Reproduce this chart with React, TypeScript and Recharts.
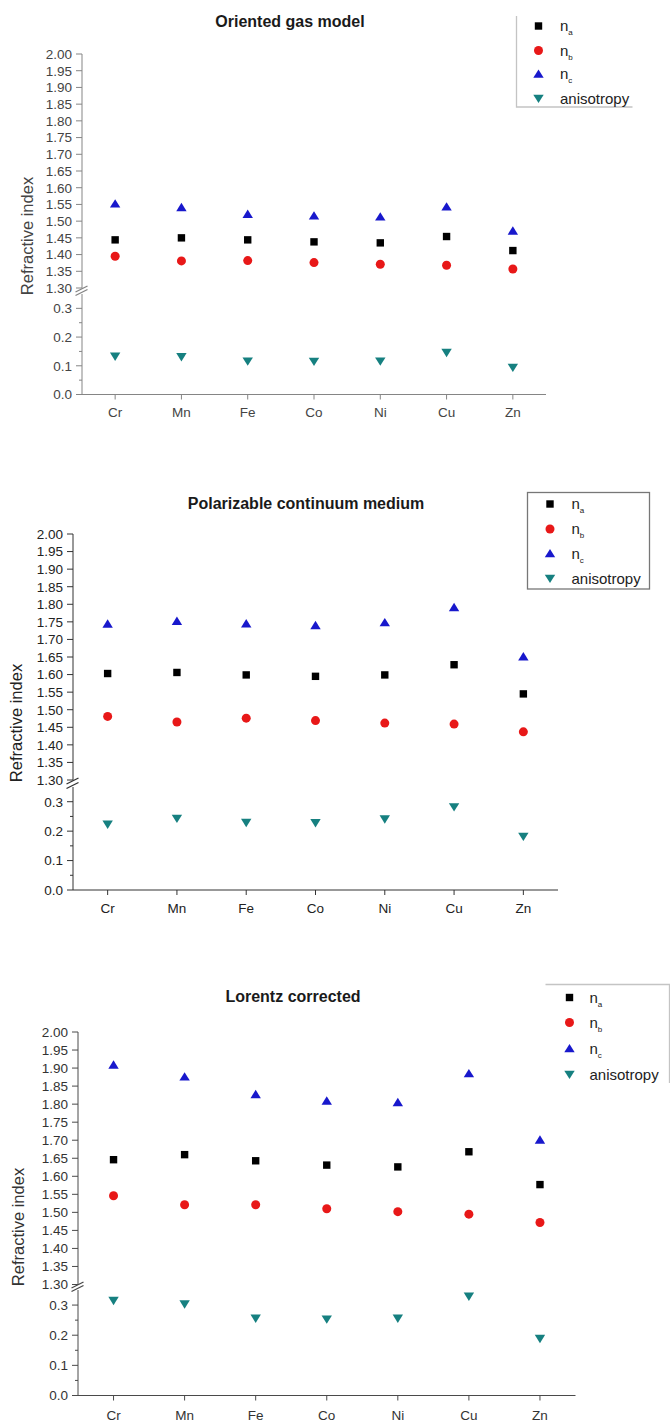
import { Scatter, ScatterChart, XAxis, YAxis } from "recharts";

// element order along the x axis
const elements = ["Cr", "Mn", "Fe", "Co", "Ni", "Cu", "Zn"];
const elementTicks = [1, 2, 3, 4, 5, 6, 7];

const upperTicks = [
  1.3, 1.35, 1.4, 1.45, 1.5, 1.55, 1.6, 1.65, 1.7, 1.75, 1.8, 1.85, 1.9, 1.95, 2.0,
];
const lowerTicks = [0, 0.05, 0.1, 0.15, 0.2, 0.25, 0.3];

// Oriented gas model
const naGas = [1.444, 1.45, 1.444, 1.438, 1.435, 1.454, 1.412];
const nbGas = [1.395, 1.381, 1.382, 1.376, 1.371, 1.368, 1.357];
const ncGas = [1.552, 1.541, 1.521, 1.516, 1.513, 1.543, 1.471];
const anisoGas = [0.133, 0.131, 0.116, 0.115, 0.116, 0.146, 0.094];

// Polarizable continuum medium
const naPcm = [1.603, 1.606, 1.599, 1.595, 1.599, 1.628, 1.545];
const nbPcm = [1.481, 1.465, 1.476, 1.469, 1.462, 1.459, 1.437];
const ncPcm = [1.744, 1.752, 1.745, 1.74, 1.748, 1.791, 1.651];
const anisoPcm = [0.223, 0.243, 0.229, 0.228, 0.241, 0.282, 0.182];

// Lorentz corrected
const naLor = [1.646, 1.66, 1.643, 1.631, 1.626, 1.668, 1.577];
const nbLor = [1.546, 1.521, 1.521, 1.51, 1.502, 1.495, 1.472];
const ncLor = [1.909, 1.876, 1.827, 1.809, 1.805, 1.885, 1.701];
const anisoLor = [0.315, 0.303, 0.256, 0.253, 0.256, 0.329, 0.189];

const FONT = '"Liberation Sans", Arial, Helvetica, sans-serif';
const YW = 70;

const C_NA = "#000000";
const C_NB = "#e81818";
const C_NC = "#1818cc";
const C_AN = "#168080";

const toPoints = (vals: number[]) => vals.map((y, i) => ({ x: i + 1, y }));

type Layout = {
  title: string;
  titleX: number;
  titleY: number;
  labelX: number;
  labelY: number;
  ax: number;
  right: number;
  y2: number;
  y13: number;
  y035: number;
  y0: number;
  xMargin: number;
  axisColor: string;
  textColor: string;
  na: number[];
  nb: number[];
  nc: number[];
  aniso: number[];
  legend: {
    kind: "corner" | "box" | "top";
    x0: number;
    y0: number;
    x1: number;
    y1: number;
    markX: number;
    textX: number;
    rows: number[];
    stroke: string;
  };
};

const panels: Layout[] = [
  {
    title: "Oriented gas model",
    titleX: 290,
    titleY: 21,
    labelX: 27,
    labelY: 236,
    ax: 81.5,
    right: 545.5,
    y2: 54,
    y13: 288,
    y035: 293.5,
    y0: 394,
    xMargin: 8,
    axisColor: "#858585",
    textColor: "#444",
    na: naGas,
    nb: nbGas,
    nc: ncGas,
    aniso: anisoGas,
    legend: {
      kind: "corner",
      x0: 516.5,
      y0: 16,
      x1: 632.5,
      y1: 107,
      markX: 538.5,
      textX: 560,
      rows: [26, 50.5, 74, 98.5],
      stroke: "#c4c4c4",
    },
  },
  {
    title: "Polarizable continuum medium",
    titleX: 306,
    titleY: 503,
    labelX: 16,
    labelY: 723,
    ax: 72.5,
    right: 557.5,
    y2: 534,
    y13: 780,
    y035: 786.5,
    y0: 889.5,
    xMargin: 8,
    axisColor: "#333",
    textColor: "#222",
    na: naPcm,
    nb: nbPcm,
    nc: ncPcm,
    aniso: anisoPcm,
    legend: {
      kind: "box",
      x0: 527.5,
      y0: 492.5,
      x1: 649.5,
      y1: 589,
      markX: 550,
      textX: 571.5,
      rows: [504, 529, 553.5, 578.5],
      stroke: "#777",
    },
  },
  {
    title: "Lorentz corrected",
    titleX: 293,
    titleY: 996,
    labelX: 18,
    labelY: 1227,
    ax: 77.5,
    right: 575,
    y2: 1031.5,
    y13: 1284,
    y035: 1289.5,
    y0: 1395,
    xMargin: 10,
    axisColor: "#4a4a4a",
    textColor: "#333",
    na: naLor,
    nb: nbLor,
    nc: ncLor,
    aniso: anisoLor,
    legend: {
      kind: "top",
      x0: 545.5,
      y0: 984.5,
      x1: 669.5,
      y1: 1083,
      markX: 569.5,
      textX: 589.5,
      rows: [997.5, 1022.5, 1048.5, 1074.5],
      stroke: "#c4c4c4",
    },
  },
];

function Square({ cx, cy, color }: { cx: number; cy: number; color: string }) {
  const s = 7.4;
  return <rect x={cx - s / 2} y={cy - s / 2} width={s} height={s} fill={color} />;
}

function Dot({ cx, cy, color }: { cx: number; cy: number; color: string }) {
  return <circle cx={cx} cy={cy} r={4.5} fill={color} />;
}

function TriUp({ cx, cy, color }: { cx: number; cy: number; color: string }) {
  return (
    <polygon
      points={`${cx},${cy - 4.6} ${cx - 5.2},${cy + 3.8} ${cx + 5.2},${cy + 3.8}`}
      fill={color}
    />
  );
}

function TriDown({ cx, cy, color }: { cx: number; cy: number; color: string }) {
  return (
    <polygon
      points={`${cx - 5.2},${cy - 3.8} ${cx + 5.2},${cy - 3.8} ${cx},${cy + 4.6}`}
      fill={color}
    />
  );
}

function yTick(p: Layout, digits: number) {
  return (props: any) => {
    const { y, payload } = props;
    const v = payload.value as number;
    const minor = Math.round(v * 100) % 10 !== 0 && digits === 1;
    return (
      <g>
        <line
          x1={YW - (minor ? 3 : 6)}
          x2={YW}
          y1={y}
          y2={y}
          stroke={p.axisColor}
          strokeWidth={1}
        />
        {!minor && (
          <text
            x={YW - 10}
            y={y}
            dy="0.36em"
            textAnchor="end"
            fontSize={13.5}
            fontFamily={FONT}
            fill={p.textColor}
          >
            {v.toFixed(digits)}
          </text>
        )}
      </g>
    );
  };
}

function Panel({ p }: { p: Layout }) {
  const plotW = p.right - p.ax;
  const width = YW + plotW + 10;
  const upperH = p.y13 - p.y2;
  const lowerH = p.y0 - p.y035;
  return (
    <>
      <div style={{ position: "absolute", left: p.ax - YW, top: p.y2 - 10 }}>
        <ScatterChart
          width={width}
          height={upperH + 20}
          margin={{ top: 10, right: 10, bottom: 10, left: 0 }}
        >
          <XAxis type="number" dataKey="x" domain={[0.5, 7.5]} hide allowDataOverflow />
          <YAxis
            type="number"
            dataKey="y"
            domain={[1.3, 2.0]}
            ticks={upperTicks}
            interval={0}
            width={YW}
            tickLine={false}
            tick={yTick(p, 2)}
            stroke={p.axisColor}
            allowDataOverflow
          />
          <Scatter
            name="na"
            data={toPoints(p.na)}
            isAnimationActive={false}
            shape={(s: any) => <Square cx={s.cx} cy={s.cy} color={C_NA} />}
          />
          <Scatter
            name="nb"
            data={toPoints(p.nb)}
            isAnimationActive={false}
            shape={(s: any) => <Dot cx={s.cx} cy={s.cy} color={C_NB} />}
          />
          <Scatter
            name="nc"
            data={toPoints(p.nc)}
            isAnimationActive={false}
            shape={(s: any) => <TriUp cx={s.cx} cy={s.cy} color={C_NC} />}
          />
        </ScatterChart>
      </div>
      <div style={{ position: "absolute", left: p.ax - YW, top: p.y035 - 10 }}>
        <ScatterChart
          width={width}
          height={lowerH + 10 + 34}
          margin={{ top: 10, right: 10, bottom: 2, left: 0 }}
        >
          <XAxis
            type="number"
            dataKey="x"
            domain={[0.5, 7.5]}
            ticks={elementTicks}
            interval={0}
            tickFormatter={(v: number) => elements[v - 1]}
            tickSize={5}
            tickMargin={p.xMargin}
            height={32}
            stroke={p.axisColor}
            tick={{ fill: p.textColor, fontSize: 13.5, fontFamily: FONT }}
            allowDataOverflow
          />
          <YAxis
            type="number"
            dataKey="y"
            domain={[0, 0.35]}
            ticks={lowerTicks}
            interval={0}
            width={YW}
            tickLine={false}
            tick={yTick(p, 1)}
            stroke={p.axisColor}
            allowDataOverflow
          />
          <Scatter
            name="anisotropy"
            data={toPoints(p.aniso)}
            isAnimationActive={false}
            shape={(s: any) => <TriDown cx={s.cx} cy={s.cy} color={C_AN} />}
          />
        </ScatterChart>
      </div>
    </>
  );
}

function Decorations({ p }: { p: Layout }) {
  const L = p.legend;
  const marks = [Square, Dot, TriUp, TriDown];
  const colors = [C_NA, C_NB, C_NC, C_AN];
  const subs = ["a", "b", "c"];
  const yb1 = p.y13 + 1;
  const yb2 = p.y035 - 1;
  return (
    <g fontFamily={FONT}>
      <text
        x={p.titleX}
        y={p.titleY}
        dy="0.36em"
        textAnchor="middle"
        fontSize={16}
        fontWeight="bold"
        fill="#1a1a1a"
      >
        {p.title}
      </text>
      <text
        transform={`translate(${p.labelX},${p.labelY}) rotate(-90)`}
        dy="0.36em"
        textAnchor="middle"
        fontSize={16.5}
        fill={p.textColor}
      >
        Refractive index
      </text>
      {/* axis break marks */}
      <line x1={p.ax - 6} y1={yb1 + 3} x2={p.ax + 6} y2={yb1 - 3} stroke={p.axisColor} strokeWidth={1.3} />
      <line x1={p.ax - 6} y1={yb2 + 3} x2={p.ax + 6} y2={yb2 - 3} stroke={p.axisColor} strokeWidth={1.3} />
      {/* legend frame */}
      {L.kind === "box" && (
        <rect
          x={L.x0}
          y={L.y0}
          width={L.x1 - L.x0}
          height={L.y1 - L.y0}
          fill="white"
          stroke={L.stroke}
          strokeWidth={1.3}
        />
      )}
      {L.kind === "corner" && (
        <polyline
          points={`${L.x0},${L.y0} ${L.x0},${L.y1} ${L.x1},${L.y1}`}
          fill="none"
          stroke={L.stroke}
          strokeWidth={1.3}
        />
      )}
      {L.kind === "top" && (
        <polyline
          points={`${L.x0},${L.y0} ${L.x1},${L.y0} ${L.x1},${L.y1}`}
          fill="none"
          stroke={L.stroke}
          strokeWidth={1.3}
        />
      )}
      {L.rows.map((ry, i) => {
        const Mark = marks[i];
        return (
          <g key={i}>
            <Mark cx={L.markX} cy={ry} color={colors[i]} />
            <text x={L.textX} y={ry + 5} fontSize={15} fill="#222">
              {i < 3 ? (
                <>
                  n
                  <tspan dy={4} fontSize={8}>
                    {subs[i]}
                  </tspan>
                </>
              ) : (
                "anisotropy"
              )}
            </text>
          </g>
        );
      })}
    </g>
  );
}

export default function App() {
  return (
    <div
      style={{
        position: "absolute",
        left: 0,
        top: 0,
        width: 670,
        height: 1425,
        background: "#fff",
        overflow: "hidden",
      }}
    >
      {panels.map((p, i) => (
        <Panel key={i} p={p} />
      ))}
      <svg
        width={670}
        height={1425}
        style={{ position: "absolute", left: 0, top: 0, pointerEvents: "none" }}
      >
        {panels.map((p, i) => (
          <Decorations key={i} p={p} />
        ))}
      </svg>
    </div>
  );
}
